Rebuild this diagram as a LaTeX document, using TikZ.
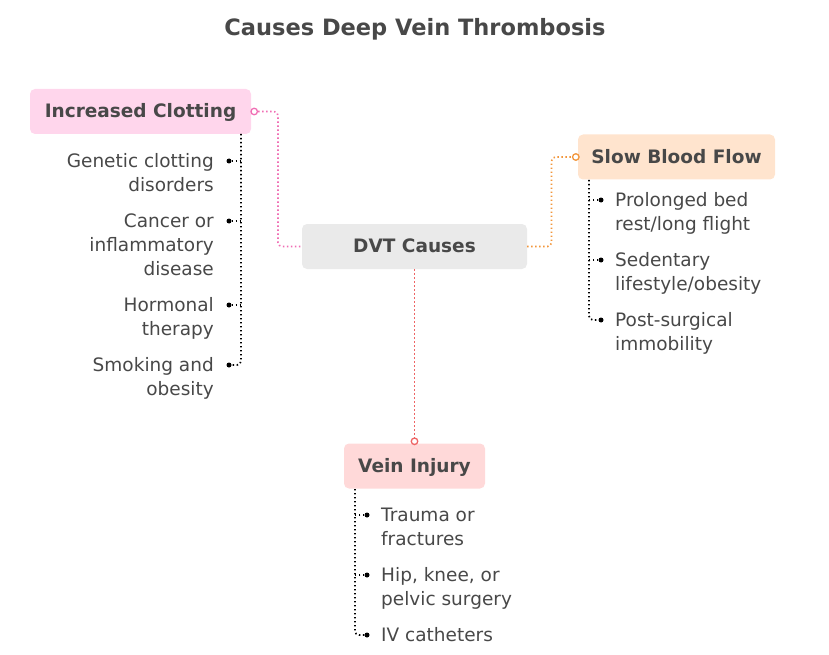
\documentclass[tikz,border=0pt]{standalone}
\usepackage{fontspec}
\setmainfont{DejaVu Sans}
\usetikzlibrary{calc}
\definecolor{ink}{RGB}{72,72,72}
\definecolor{clotfill}{RGB}{255,214,236}
\definecolor{clotline}{RGB}{240,110,180}
\definecolor{flowfill}{RGB}{255,228,206}
\definecolor{flowline}{RGB}{242,150,60}
\definecolor{veinfill}{RGB}{255,217,217}
\definecolor{veinline}{RGB}{238,100,100}
\definecolor{hubfill}{RGB}{234,234,234}
\tikzset{
  topic/.style={rounded corners=5pt, inner sep=0pt, minimum height=45pt,
    text height=13.5pt, text depth=0.8pt,
    font=\fontsize{18.5}{22}\selectfont\bfseries, text=ink},
  leaf/.style={font=\fontsize{18.5}{24}\selectfont, text=ink, inner sep=0pt},
  bullet/.style={circle, fill=black, inner sep=0pt, minimum size=5pt},
  ring/.style={circle, draw=#1, fill=white, line width=1.3pt, inner sep=0pt, minimum size=6.5pt},
  stem/.style={line width=1.7pt, dash pattern=on 1.4pt off 2.6pt},
  link/.style={stem, draw=#1, rounded corners=4pt}
}
\begin{document}
\begin{tikzpicture}[x=1pt,y=-1pt]
  \useasboundingbox (0,0) rectangle (829,655);

  \node[font=\fontsize{22.5}{26}\selectfont\bfseries, text=ink] (title) at (415,29.5) {Causes Deep Vein Thrombosis};

  % main boxes
  \node[topic, fill=hubfill, minimum width=225pt] (dvt) at (414.5,246.5) {DVT Causes};
  \node[topic, fill=clotfill, minimum width=221pt] (ic) at (140.5,111.5) {Increased Clotting};
  \node[topic, fill=flowfill, minimum width=197pt] (sbf) at (676.5,157) {Slow Blood Flow};
  \node[topic, fill=veinfill, minimum width=141pt] (vi) at (414.5,466) {Vein Injury};

  % links from the hub
  \node[ring=clotline] (icdot) at ([xshift=3pt]ic.east) {};
  \node[ring=flowline] (sbfdot) at ([xshift=-2pt]sbf.west) {};
  \node[ring=veinline] (vidot) at ([yshift=2pt]vi.north) {};
  \draw[link=clotline] (icdot) -| ($(icdot)!.5!(dvt.west)$) |- (dvt.west);
  \draw[link=flowline] (dvt.east) -| ($(dvt.east)!.5!(sbfdot)$) |- (sbfdot);
  \draw[link=veinline] (dvt.south) -- (vidot);

  % Increased Clotting
  \coordinate (icstem) at (241,134);
  \foreach \n/\y/\k/\txt in {1/161/2/{Genetic clotting\\disorders},
      2/221/3/{Cancer or\\inflammatory\\disease},
      3/305/2/{Hormonal\\therapy},
      4/365/2/{Smoking and\\obesity}} {
    \node[bullet] (icb\n) at (229,\y) {};
    \node[leaf, anchor=base east, align=right] (ict\n) at (214,{\y+6+(\k-1)*24}) {\txt};
  }
  \foreach \n in {1,2,3} \draw[stem] (icb\n) -- (icb\n -| icstem);
  \draw[stem, rounded corners=4pt] (icstem) |- (icb4);

  % Slow Blood Flow
  \coordinate (sbfstem) at (589,180);
  \foreach \n/\y/\k/\txt in {1/200/2/{Prolonged bed\\rest/long flight},
      2/260/2/{Sedentary\\lifestyle/obesity},
      3/320/2/{Post-surgical\\immobility}} {
    \node[bullet] (sbfb\n) at (601,\y) {};
    \node[leaf, anchor=base west, align=left] (sbft\n) at (615,{\y+6+(\k-1)*24}) {\txt};
  }
  \foreach \n in {1,2} \draw[stem] (sbfb\n) -- (sbfb\n -| sbfstem);
  \draw[stem, rounded corners=4pt] (sbfstem) |- (sbfb3);

  % Vein Injury
  \coordinate (vistem) at (355,489);
  \foreach \n/\y/\k/\txt in {1/515/2/{Trauma or\\fractures},
      2/575/2/{Hip, knee, or\\pelvic surgery},
      3/635/1/{IV catheters}} {
    \node[bullet] (vib\n) at (367,\y) {};
    \node[leaf, anchor=base west, align=left] (vit\n) at (381,{\y+6+(\k-1)*24}) {\txt};
  }
  \foreach \n in {1,2} \draw[stem] (vib\n) -- (vib\n -| vistem);
  \draw[stem, rounded corners=4pt] (vistem) |- (vib3);
\end{tikzpicture}
\end{document}
